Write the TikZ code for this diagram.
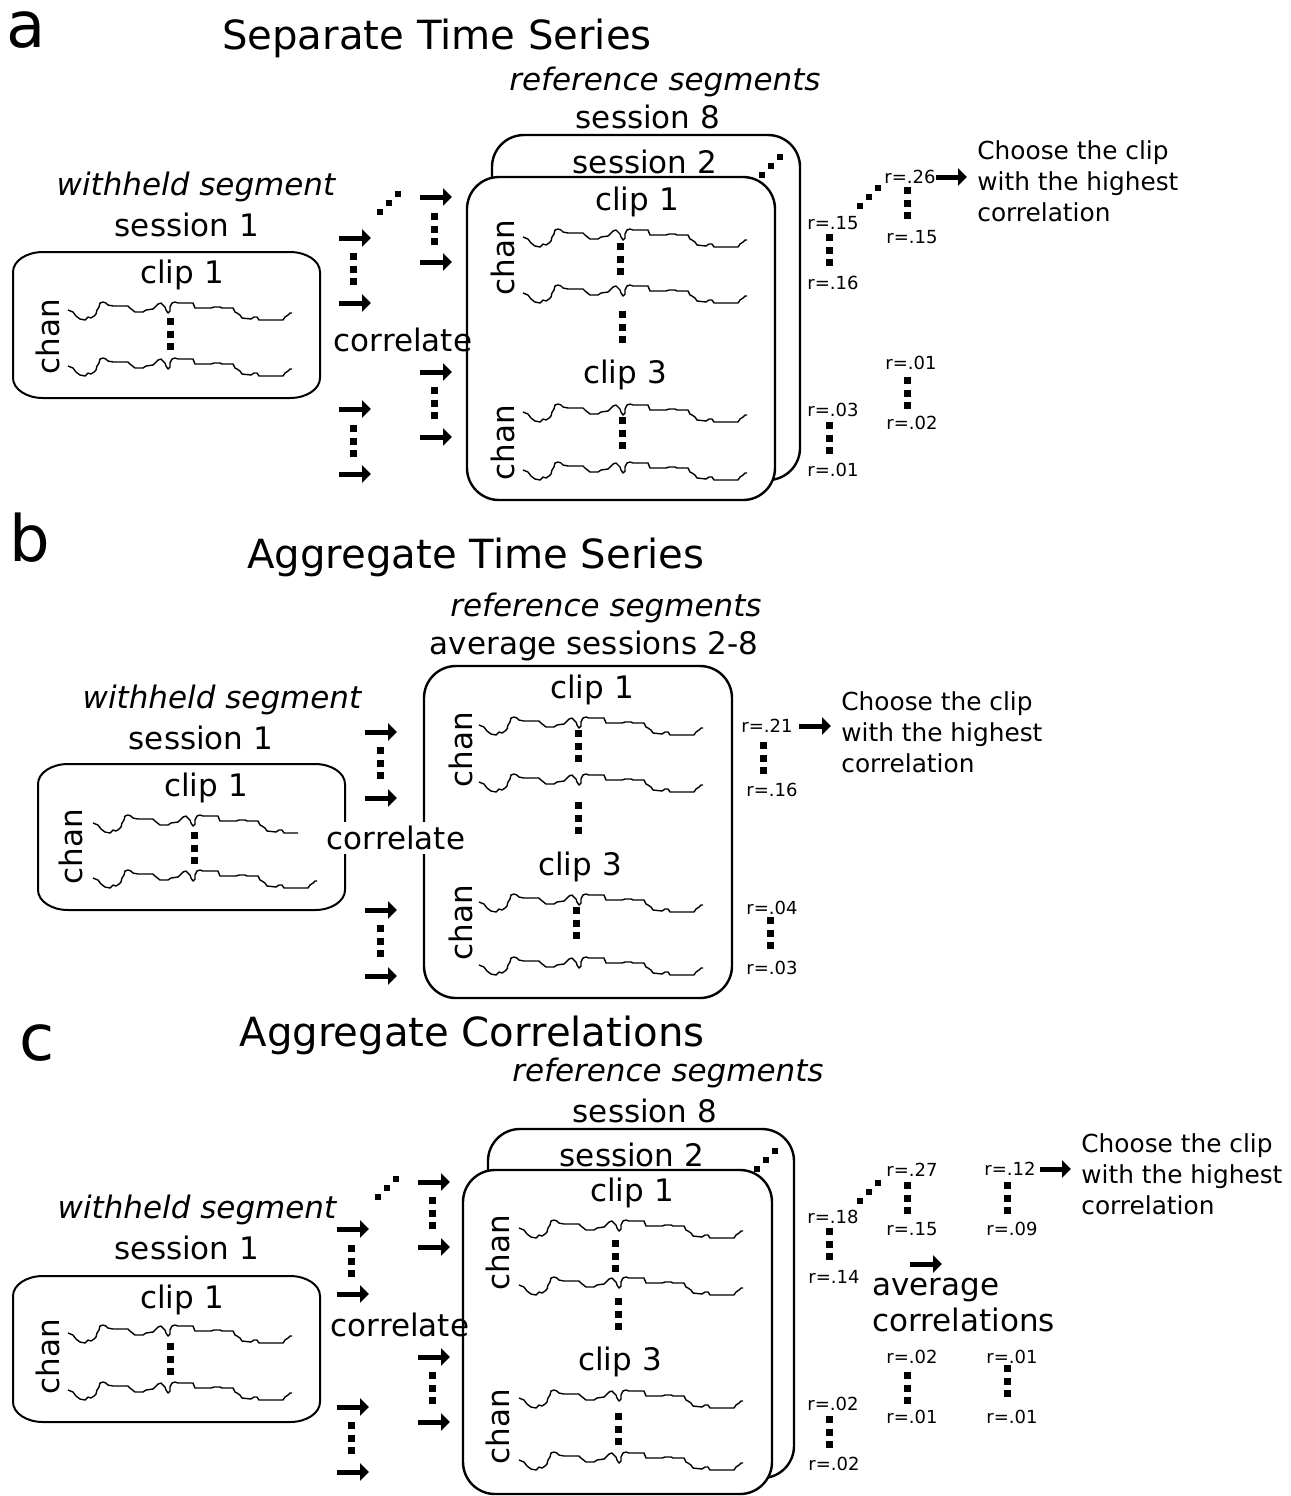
\documentclass[tikz,border=0pt]{standalone}
\usepackage{fontspec}
\setmainfont{DejaVu Sans}
\usetikzlibrary{arrows.meta, positioning}
\tikzset{
	panel/.style={font=\fontsize{32}{38}\selectfont, inner sep=0pt},
	title/.style={font=\fontsize{20.1}{24}\selectfont, inner sep=0pt},
	lbl/.style={font=\fontsize{15.5}{18}\selectfont, inner sep=0pt},
	itlbl/.style={font=\fontsize{15.5}{18}\selectfont\itshape, inner sep=0pt},
	chan/.style={lbl, rotate=90},
	rval/.style={font=\fontsize{9}{11}\selectfont, inner sep=0pt},
	% text right of the last arrow
	note/.style={font=\fontsize{12.4}{15.5}\selectfont, inner sep=0pt, align=left, anchor=west},
	clipbox/.style={draw, line width=1pt},
	refbox/.style={draw, line width=1.2pt, rounded corners=16pt, fill=white},
	trace/.style={line width=0.7pt, line join=round},
	vdots/.style={line width=3.5pt, dash pattern=on 3.5pt off 2.75pt},
	arr/.style={line width=2.5pt, -{Triangle[length=4.5pt,width=8.5pt]}},
	pics/wave/.style={code={
		\draw[trace] (0,0) -- (5,2) -- (8,6) -- (12,9) -- (17,10) -- (20,7) -- (23,8) -- (26,6) -- (28,4)
		-- (29,0) -- (31,-3) -- (32,-7) -- (35,-8) -- (38,-7) -- (40,-5) -- (45,-4) -- (60,-4) -- (62,-2)
		-- (67,2) -- (75,2) -- (78,0) -- (85,-1) -- (87,-3) -- (90,-6) -- (93,-7) -- (95,-5) -- (97,-3)
		-- (98,0) -- (100,3) -- (102,1) -- (102,-3) -- (104,-7) -- (107,-8) -- (110,-7) -- (125,-7)
		-- (127,-2) -- (143,-2) -- (146,-3) -- (152,-3) -- (154,-2) -- (165,-2) -- (167,2) -- (169,3)
		-- (172,5) -- (174,8) -- (183,9) -- (186,7) -- (189,7) -- (191,10) -- (215,10) -- (217,7)
		-- (220,5) -- (222,3) -- (224,3);}},
	pics/wavecut/.style={code={
		\draw[trace] (0,0) -- (5,2) -- (8,6) -- (12,9) -- (17,10) -- (20,7) -- (23,8) -- (26,6) -- (28,4)
		-- (29,0) -- (31,-3) -- (32,-7) -- (35,-8) -- (38,-7) -- (40,-5) -- (45,-4) -- (60,-4) -- (62,-2)
		-- (67,2) -- (75,2) -- (78,0) -- (85,-1) -- (87,-3) -- (90,-6) -- (93,-7) -- (95,-5) -- (97,-3)
		-- (98,0) -- (100,3) -- (102,1) -- (102,-3) -- (104,-7) -- (107,-8) -- (110,-7) -- (125,-7)
		-- (127,-2) -- (143,-2) -- (146,-3) -- (152,-3) -- (154,-2) -- (165,-2) -- (167,2) -- (169,3)
		-- (172,5) -- (174,8) -- (183,9) -- (186,7) -- (189,7) -- (191,10) -- (205,10);}},
	pics/vdotcol/.style={code={\draw[vdots] (0,0) -- (0,32);}},
	pics/ddots/.style={code={\foreach \k in {0,1,2} \fill (\k*9-3,-\k*9-3) rectangle ++(6,6);}},
}
% withheld clip box, flat rounded corners; #1,#2 = top left corner
\newcommand{\heldbox}[2]{%
	\draw[clipbox] (#1+30,#2) -- (#1+277,#2)
	arc[start angle=-90, end angle=0, x radius=30, y radius=20] -- (#1+307,#2+126)
	arc[start angle=0, end angle=90, x radius=30, y radius=20] -- (#1+30,#2+146)
	arc[start angle=90, end angle=180, x radius=30, y radius=20] -- (#1,#2+20)
	arc[start angle=180, end angle=270, x radius=30, y radius=20] -- cycle;}

\begin{document}
\begin{tikzpicture}[x=0.5pt, y=-0.5pt, node distance=19pt]
	\useasboundingbox (0,0) rectangle (1291,1496);
	
	%%% a
	\node (pa) [panel] at (26,30) {a};
	\node (ta) [title] at (437,38) {Separate Time Series};
	\node (refa) [itlbl] at (665,82) {reference segments};
	\node (s8a) [lbl, below of=refa, xshift=-8.5pt, yshift=1.5pt] {session 8};
	
	\draw[refbox] (492,135) rectangle (800,480);
	\node (s2a) [lbl] at (645,162) {session 2};
	\pic at (762,175) {ddots};
	\draw[refbox] (467,177) rectangle (775,500);
	\node (c1a) [lbl] at (637,202) {clip 1};
	\node (ch1a) [chan] at (503,258) {chan};
	\pic at (523,237) {wave};
	\pic at (523,293) {wave};
	\pic at (620,243) {vdotcol};
	\pic at (622,311) {vdotcol};
	\node (c3a) [lbl] at (625,375) {clip 3};
	\node (ch3a) [chan] at (503,443) {chan};
	\pic at (523,412) {wave};
	\pic at (523,470) {wave};
	\pic at (622,417) {vdotcol};
	
	\node (wha) [itlbl] at (196,187) {withheld segment};
	\node (s1a) [lbl, below of=wha, xshift=-4.5pt] {session 1};
	\heldbox{13}{252}
	\node (w1a) [lbl] at (182,275) {clip 1};
	\node (wcha) [chan] at (48,337) {chan};
	\pic at (68,310) {wave};
	\pic at (68,366) {wave};
	\pic at (170,318) {vdotcol};
	
	\node (cora) [lbl] at (403,340) {correlate};
	\begin{scope}[arr]
		\foreach \y in {238,303,409,474} \draw (339,\y) -- ++(32,0);
		\foreach \y in {197,262,372,437} \draw (420,\y) -- ++(32,0);
	\end{scope}
	\pic at (353,253) {vdotcol};
	\pic at (353,425) {vdotcol};
	\pic at (434,213) {vdotcol};
	\pic at (434,387) {vdotcol};
	\pic at (380,212) {ddots};
	
	\node (r15a) [rval] at (833,223) {r=.15};
	\node (r16a) [rval] at (833,283) {r=.16};
	\node (r26a) [rval] at (910,177) {r=.26};
	\node (r15ba) [rval] at (912,237) {r=.15};
	\node (r01a) [rval] at (911,363) {r=.01};
	\node (r02a) [rval] at (912,423) {r=.02};
	\node (r03a) [rval] at (833,410) {r=.03};
	\node (r01ba) [rval] at (833,470) {r=.01};
	\pic at (829,234) {vdotcol};
	\pic at (907,187) {vdotcol};
	\pic at (907,377) {vdotcol};
	\pic at (829,422) {vdotcol};
	\pic at (860,206) {ddots};
	\node (choosea) [note] at (977,181) {Choose the clip\\with the highest\\correlation};
	\draw[arr, shorten >=5pt] (r26a.east) -- (r26a.east -| choosea.west);
	
	%%% b
	\node (pb) [panel] at (30,538) {b};
	\node (tb) [title] at (476,557) {Aggregate Time Series};
	\node (refb) [itlbl] at (606,608) {reference segments};
	\node (avgb) [lbl, below of=refb, xshift=-6pt] {average sessions 2-8};
	
	\draw[refbox] (424,666) rectangle (732,998);
	\node (c1b) [lbl] at (592,690) {clip 1};
	\node (ch1b) [chan] at (461,750) {chan};
	\pic at (479,725) {wave};
	\pic at (479,782) {wave};
	\pic at (578,730) {vdotcol};
	\pic at (578,802) {vdotcol};
	\node (c3b) [lbl] at (580,867) {clip 3};
	\node (ch3b) [chan] at (461,923) {chan};
	\pic at (479,902) {wave};
	\pic at (479,965) {wave};
	\pic at (576,907) {vdotcol};
	
	\node (whb) [itlbl] at (222,700) {withheld segment};
	\node (s1b) [lbl, below of=whb, xshift=-10.5pt] {session 1};
	\heldbox{38}{764}
	\node (w1b) [lbl] at (206,788) {clip 1};
	\node (wchb) [chan] at (71,847) {chan};
	\pic at (93,823) {wavecut};
	\pic at (93,878) {wave};
	\pic at (194,832) {vdotcol};
	
	\node (corb) [lbl, fill=white, inner ysep=2pt] at (396,838) {correlate};
	\begin{scope}[arr]
		\foreach \y in {732,798,910,976} \draw (365,\y) -- ++(32,0);
	\end{scope}
	\pic at (380,747) {vdotcol};
	\pic at (380,925) {vdotcol};
	
	\node (r21b) [rval] at (767,726) {r=.21};
	\node (r16b) [rval] at (772,790) {r=.16};
	\node (r04b) [rval] at (772,908) {r=.04};
	\node (r03b) [rval] at (772,968) {r=.03};
	\pic at (763,742) {vdotcol};
	\pic at (770,917) {vdotcol};
	\node (chooseb) [note] at (841,732) {Choose the clip\\with the highest\\correlation};
	\draw[arr, shorten <=3pt, shorten >=5pt] (r21b.east) -- (r21b.east -| chooseb.west);
	
	%%% c
	\node (pc) [panel] at (37,1043) {c};
	\node (tc) [title] at (472,1035) {Aggregate Correlations};
	\node (refc) [itlbl] at (668,1073) {reference segments};
	\node (s8c) [lbl, below of=refc, xshift=-11.5pt] {session 8};
	
	\draw[refbox] (488,1129) rectangle (794,1478);
	\node (s2c) [lbl] at (632,1155) {session 2};
	\pic at (757,1169) {ddots};
	\draw[refbox] (463,1170) rectangle (772,1494);
	\node (c1c) [lbl] at (632,1193) {clip 1};
	\node (ch1c) [chan] at (498,1253) {chan};
	\pic at (519,1228) {wave};
	\pic at (519,1285) {wave};
	\pic at (615,1240) {vdotcol};
	\pic at (618,1298) {vdotcol};
	\node (c3c) [lbl] at (620,1362) {clip 3};
	\node (ch3c) [chan] at (498,1427) {chan};
	\pic at (519,1398) {wave};
	\pic at (519,1460) {wave};
	\pic at (618,1413) {vdotcol};
	
	\node (whc) [itlbl] at (197,1210) {withheld segment};
	\node (s1c) [lbl, below of=whc, xshift=-5pt] {session 1};
	\heldbox{13}{1276}
	\node (w1c) [lbl] at (182,1300) {clip 1};
	\node (wchc) [chan] at (48,1357) {chan};
	\pic at (68,1333) {wave};
	\pic at (68,1390) {wave};
	\pic at (170,1343) {vdotcol};
	
	\node (corc) [lbl] at (400,1325) {correlate};
	\begin{scope}[arr]
		\foreach \y in {1229,1294,1407,1472} \draw (337,\y) -- ++(32,0);
		\foreach \y in {1182,1247,1357,1422} \draw (418,\y) -- ++(32,0);
		\draw (910,1264) -- ++(32,0);
	\end{scope}
	\pic at (351,1245) {vdotcol};
	\pic at (351,1422) {vdotcol};
	\pic at (432,1197) {vdotcol};
	\pic at (432,1372) {vdotcol};
	\pic at (378,1197) {ddots};
	
	\node (r18c) [rval] at (833,1217) {r=.18};
	\node (r14c) [rval] at (834,1277) {r=.14};
	\node (r27c) [rval] at (912,1170) {r=.27};
	\node (r15c) [rval] at (912,1229) {r=.15};
	\node (r12c) [rval] at (1010,1169) {r=.12};
	\node (r09c) [rval] at (1012,1229) {r=.09};
	\node (r02c) [rval] at (912,1357) {r=.02};
	\node (r01c) [rval] at (912,1417) {r=.01};
	\node (r01bc) [rval] at (1012,1357) {r=.01};
	\node (r01cc) [rval] at (1012,1417) {r=.01};
	\node (r02bc) [rval] at (833,1404) {r=.02};
	\node (r02cc) [rval] at (834,1464) {r=.02};
	\pic at (829,1228) {vdotcol};
	\pic at (907,1182) {vdotcol};
	\pic at (1007,1182) {vdotcol};
	\pic at (907,1372) {vdotcol};
	\pic at (1007,1365) {vdotcol};
	\pic at (829,1416) {vdotcol};
	\pic at (860,1201) {ddots};
	\node (avgc) [lbl, align=left, anchor=west, font=\fontsize{15.5}{18}\selectfont] at (872,1305) {average\\correlations};
	\node (choosec) [note] at (1081,1174) {Choose the clip\\with the highest\\correlation};
	\draw[arr, shorten <=2pt, shorten >=5pt] (r12c.east) -- (r12c.east -| choosec.west);
\end{tikzpicture}
\end{document}
